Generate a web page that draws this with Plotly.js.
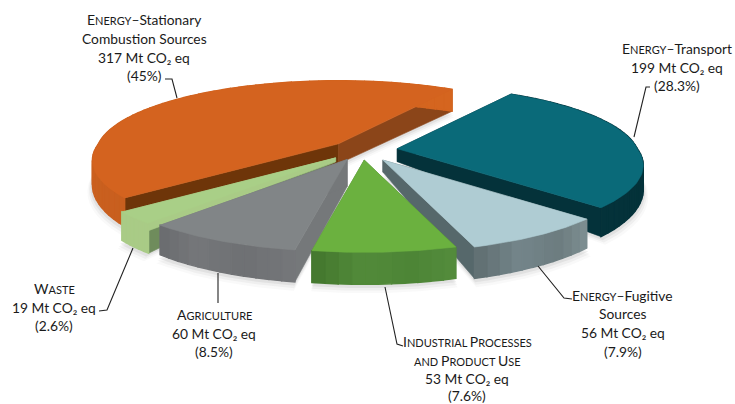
<!DOCTYPE html>
<html><head><meta charset="utf-8">
<script src="https://cdn.plot.ly/plotly-3.0.1.min.js"></script>
<style>html,body{margin:0;padding:0;background:#fff}</style></head>
<body><div id="chart" style="width:735px;height:404px"></div>
<script>
// ---------- data (clockwise from the top right) ----------
const categories = ["Energy–Transport","Energy–Fugitive Sources","Industrial Processes and Product Use","Agriculture","Waste","Energy–Stationary Combustion Sources"];
const emissions  = [199,56,53,60,19,317];
const percents   = [28.3,7.9,7.6,8.5,2.6,45];

// ---------- pie geometry ----------
const pull      = [0.148,0.165,0.14,0.145,0.155,0.13];
const hub       = [362,150];
const RX = 240, RY = 72, PERSP_FRONT = 0.22, PERSP_BACK = 0.14, START = -58;
const innerH    = [13,12,10,27,4,20];
const drawOrder = [5,0,4,3,1,2];
const topColor  = ["#0a6a79","#afccd3","#6bb13f","#818587","#a9cf87","#d4631f"];
const wallStart = ["#04323a","#56686b","#4a7f33","#75787a","#6f8c5c","#6e3509"];
const wallEnd   = ["#04323a","#56686b","#4a7f33","#75787a","#a9cb86","#8b4519"];
const rimColors = [
  ["#04323a","#04323a"],
  ["#7f9093","#6c7c7f","#74858a","#5f6e71"],
  ["#548c3c","#4d8536","#528a3a","#43762d"],
  ["#75777a","#6e7073","#75777a","#6a6c6f"],
  ["#a9cb86","#a9cb86"],
  ["#c85f1f","#d5651f"]
];

function hexMix(list,t){
  const n=list.length-1, i=Math.min(n-1,Math.floor(t*n)), f=t*n-i;
  const c=s=>[1,3,5].map(k=>parseInt(s.substr(k,2),16));
  const a=c(list[i]), b=c(list[i+1]);
  return "rgb("+a.map((v,k)=>Math.round(v+(b[k]-v)*f)).join(",")+")";
}
const rad=d=>d*Math.PI/180;
const total=percents.reduce((a,b)=>a+b,0);
let cursor=START;
const slices=percents.map((p,i)=>{
  const sweep=p/total*360, a0=cursor, a1=cursor+sweep; cursor=a1;
  const m=rad((a0+a1)/2);
  return {i,a0,a1,apex:[hub[0]+RX*pull[i]*Math.cos(m),hub[1]+RY*pull[i]*Math.sin(m)]};
});
function rimPt(s,deg,extra){
  const t=rad(deg), v=Math.sin(t), q=(extra||1)/(1-(v>0?PERSP_FRONT:PERSP_BACK)*v);
  return [s.apex[0]+RX*Math.cos(t)*q,s.apex[1]+RY*v*q];
}
const rimH=deg=>22+10*Math.max(0,Math.sin(rad(deg)));
const traces=[];
function poly(pts,color,name,w){
  traces.push({type:"scatter",mode:"lines",x:pts.map(p=>p[0]),y:pts.map(p=>p[1]),fill:"toself",
    fillcolor:color,line:{color:color,width:w||0.6},hoverinfo:"skip",showlegend:false,name:name||""});
}
// soft shadow
[[7,1.02,"rgba(90,90,90,0.04)"],[5,1.014,"rgba(90,90,90,0.06)"],[3,1.008,"rgba(90,90,90,0.09)"]].forEach(([dy,sc,col])=>{
  slices.forEach(s=>{
    const pts=[[s.apex[0],s.apex[1]+innerH[s.i]+dy]];
    const N=40;
    for(let k=0;k<=N;k++){const d=s.a0+(s.a1-s.a0)*k/N;const p=rimPt(s,d,sc);pts.push([p[0],p[1]+rimH(d)+dy]);}
    pts.push(pts[0]);
    traces.push({type:"scatter",mode:"lines",x:pts.map(p=>p[0]),y:pts.map(p=>p[1]),fill:"toself",fillcolor:col,line:{width:0},hoverinfo:"skip",showlegend:false});
  });
});
drawOrder.forEach(idx=>{
  const s=slices[idx];
  const A=s.apex, h0=innerH[idx];
  const e0=rimPt(s,s.a0), e1=rimPt(s,s.a1);
  poly([A,e0,[e0[0],e0[1]+rimH(s.a0)],[A[0],A[1]+h0],A],wallStart[idx]);
  poly([A,e1,[e1[0],e1[1]+rimH(s.a1)],[A[0],A[1]+h0],A],wallEnd[idx]);
  const segs=Math.max(6,Math.round((s.a1-s.a0)/2.5));
  for(let k=0;k<segs;k++){
    const d0=s.a0+(s.a1-s.a0)*k/segs, d1=s.a0+(s.a1-s.a0)*(k+1)/segs;
    const p0=rimPt(s,d0), p1=rimPt(s,d1);
    poly([p0,p1,[p1[0],p1[1]+rimH(d1)],[p0[0],p0[1]+rimH(d0)],p0],hexMix(rimColors[idx],(k+.5)/segs),"",1.4);
  }
  const top=[A];
  for(let k=0;k<=60;k++) top.push(rimPt(s,s.a0+(s.a1-s.a0)*k/60));
  top.push(A);
  poly(top,topColor[idx],categories[idx]);
});
// leader lines
const leaders=[
  [[165,79],[172,79],[177,98]],
  [[650,87],[646,87],[634,137]],
  [[538,266],[564,298],[572,299]],
  [[385,287],[397,344],[403,346]],
  [[218,273],[218,303]],
  [[133,248],[107,310],[99,311]]
];
leaders.forEach(l=>traces.push({type:"scatter",mode:"lines",x:l.map(p=>p[0]),y:l.map(p=>p[1]),
  line:{color:"#222",width:1.1},hoverinfo:"skip",showlegend:false}));

// ---------- labels ----------
const BASE=13.8, BIG=14, SMALL=11;
const sc=t=>t.split(" ").map(w=>{
  const first=`<span style="font-size:${w==="and"?SMALL:BIG}px">${w[0].toUpperCase()}</span>`;
  return first+`<span style="font-size:${SMALL}px">${w.slice(1).toUpperCase()}</span>`;
}).join(`<span style="font-size:${SMALL}px"> </span>`);
const mt=v=>`${v} Mt CO₂ eq`;
const pc=v=>`(${v}%)`;
const labelText=[
  [sc("Energy")+"–Transport",mt(emissions[0]),pc(percents[0])],
  [sc("Energy")+"–Fugitive","Sources",mt(emissions[1]),pc(percents[1])],
  [sc("Industrial Processes"),sc("and Product Use"),mt(emissions[2]),pc(percents[2])],
  [sc("Agriculture"),mt(emissions[3]),pc(percents[3])],
  [sc("Waste"),mt(emissions[4]),pc(percents[4])],
  [sc("Energy")+"–Stationary","Combustion Sources",mt(emissions[5]),pc(percents[5])]
];
const labelX=[677,622.5,467,214,54,144];
const labelY=[[48,67,85],[295,313,332,351],[341,360,378,395],[314,333,351],[288,307,325],[19,38,57,75]];
const annotations=[];
labelText.forEach((lines,i)=>lines.forEach((t,j)=>annotations.push({
  x:labelX[i],y:labelY[i][j],xref:"x",yref:"y",text:t,showarrow:false,xanchor:"center",yanchor:"middle",
  font:{family:"Lato, Carlito, sans-serif",size:BASE,color:"#1a1a1a"}
})));

Plotly.newPlot("chart",traces,{
  width:735,height:404,margin:{l:0,r:0,t:0,b:0},paper_bgcolor:"#fff",plot_bgcolor:"#fff",showlegend:false,
  xaxis:{range:[0,735],visible:false,fixedrange:true},
  yaxis:{range:[404,0],visible:false,fixedrange:true},
  annotations:annotations
},{displayModeBar:false,staticPlot:true});
</script></body></html>
